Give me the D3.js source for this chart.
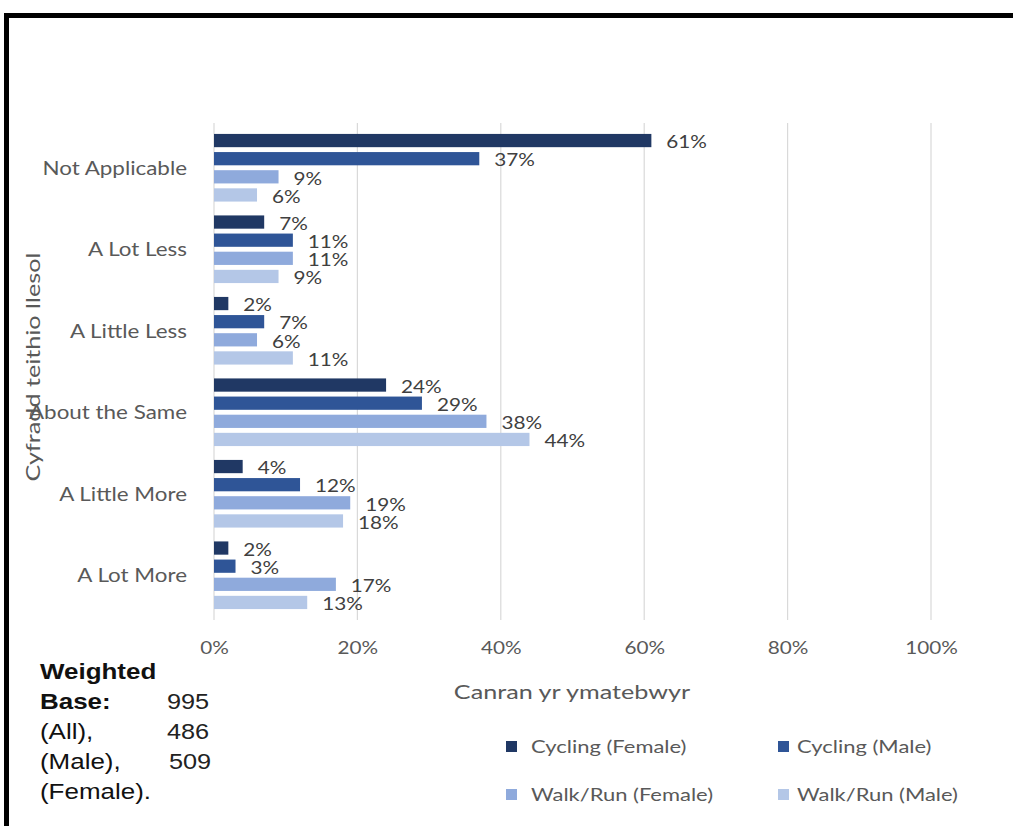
<!DOCTYPE html>
<html><head><meta charset="utf-8">
<script src="https://cdn.jsdelivr.net/npm/d3@7"></script>
<style>html,body{margin:0;padding:0;background:#fff;}svg{display:block;}</style>
</head><body><svg id="c" width="1013" height="826"></svg>
<script>
const categories = ["Not Applicable","A Lot Less","A Little Less","About the Same","A Little More","A Lot More"];
const seriesNames = ["Cycling (Female)","Cycling (Male)","Walk/Run (Female)","Walk/Run (Male)"];
const cyclingFemale = [61,7,2,24,4,2];
const cyclingMale = [37,11,7,29,12,3];
const walkFemale = [9,11,6,38,19,17];
const walkMale = [6,9,11,44,18,13];
const xTicks = [0,20,40,60,80,100];
const colors = ["#203864","#2F5597","#8FAADC","#B4C7E7"];
const baseLines = [["Weighted",""],["Base:","995"],["(All),","486"],["(Male),","509"],["(Female).",""]];

const series = [cyclingFemale,cyclingMale,walkFemale,walkMale];
const svg = d3.select("#c");
const font = "Lato, 'Open Sans', sans-serif";
const grey = "#595959";

function stretch(sel, s){
  sel.each(function(){
    const t = d3.select(this);
    const ax = +(t.attr("x")||0);
    t.attr("transform",`translate(${ax},0) scale(${s},1) translate(${-ax},0)`);
  });
}

// frame
svg.append("rect").attr("x",6.5).attr("y",15.5).attr("width",1030).attr("height",900)
  .attr("fill","none").attr("stroke","#000").attr("stroke-width",5);

const x = d3.scaleLinear().domain([0,100]).range([214,931]);
const y = d3.scaleBand().domain(categories).range([127,616]).paddingInner(0.17).paddingOuter(0.085);
const yi = d3.scaleBand().domain(d3.range(4)).range([0,y.bandwidth()]).paddingInner(0.27);

// gridlines
svg.append("g").selectAll("line").data(xTicks).join("line")
  .attr("x1",d=>x(d)).attr("x2",d=>x(d)).attr("y1",123).attr("y2",620)
  .attr("stroke","#d9d9d9").attr("stroke-width",1.2);

// x axis tick labels
const xAxis = d3.axisBottom(x).tickValues(xTicks).tickFormat(d=>d+"%").tickSize(0).tickPadding(0);
const gx = svg.append("g").attr("transform","translate(0,640)").call(xAxis);
gx.select(".domain").remove();
gx.selectAll("text").attr("font-family",font).attr("font-size",18).attr("fill",grey).attr("dy",0).attr("y",14).attr("x",0);
stretch(gx.selectAll("text"),1.15);

// y axis category labels
const yAxis = d3.axisLeft(y).tickSize(0).tickPadding(0);
const gy = svg.append("g").attr("transform","translate(187,0)").call(yAxis);
gy.select(".domain").remove();
gy.selectAll("text").attr("font-family",font).attr("font-size",20).attr("fill",grey).attr("x",0).attr("dy","0.35em");
stretch(gy.selectAll("text"),1.12);

// bars
series.forEach((vals,si)=>{
  const g = svg.append("g");
  g.selectAll("rect").data(vals).join("rect")
    .attr("x",x(0)).attr("y",(d,i)=>y(categories[i])+yi(si))
    .attr("width",d=>x(d)-x(0)).attr("height",yi.bandwidth())
    .attr("fill",colors[si]);
  const lab = g.selectAll("text").data(vals).join("text")
    .attr("x",d=>x(d)+15).attr("y",(d,i)=>y(categories[i])+yi(si)+yi.bandwidth()/2+1.5)
    .attr("dy","0.35em").attr("font-family",font).attr("font-size",18).attr("fill","#404040")
    .text(d=>d+"%");
  stretch(lab,1.15);
});

// axis titles
const xt = svg.append("text").attr("x",572).attr("y",699).attr("text-anchor","middle")
  .attr("font-family",font).attr("font-size",20).attr("fill",grey).text("Canran yr ymatebwyr");
stretch(xt,1.26);
svg.append("text").attr("transform","translate(40,367) rotate(-90) scale(1.26,1)").attr("text-anchor","middle")
  .attr("font-family",font).attr("font-size",20).attr("fill",grey).text("Cyfradd teithio llesol");

// legend
const legPos = [[506,747],[778,747],[506,795],[778,795]];
seriesNames.forEach((n,i)=>{
  const [lx,ly]=legPos[i];
  svg.append("rect").attr("x",lx).attr("y",ly-6).attr("width",11).attr("height",11).attr("fill",colors[i]);
  const t = svg.append("text").attr("x",lx+25-(i%2)*6).attr("y",ly).attr("dy","0.35em")
    .attr("font-family",font).attr("font-size",18).attr("fill",grey).text(n);
  stretch(t,1.22);
});

// weighted base text
const bf = "'Liberation Sans', Arial, sans-serif";
baseLines.forEach((l,i)=>{
  const ly = 679 + i*30;
  const t = svg.append("text").attr("x",40).attr("y",ly).attr("font-family",bf).attr("font-size",22)
    .attr("font-weight",i<2?"bold":"normal").attr("fill","#111").text(l[0]);
  stretch(t,1.18);
  if(l[1]){
    const n = svg.append("text").attr("x",i===3?169:167).attr("y",ly).attr("font-family",bf).attr("font-size",22)
      .attr("fill","#222").text(l[1]);
    stretch(n,1.15);
  }
});
</script></body></html>
